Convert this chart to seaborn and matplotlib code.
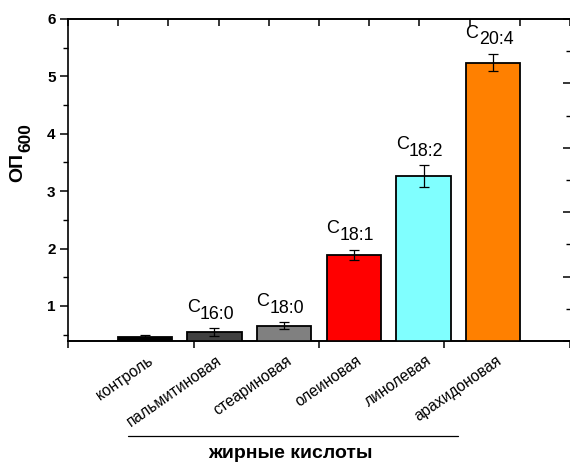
import numpy as np
import matplotlib
matplotlib.use("Agg")
import matplotlib.pyplot as plt
import seaborn as sns
from matplotlib.lines import Line2D

categories = ["контроль", "пальмитиновая", "стеариновая", "олеиновая", "линолевая", "арахидоновая"]
values = [0.455, 0.54, 0.66, 1.89, 3.265, 5.24]
errors = [0.04, 0.07, 0.055, 0.09, 0.19, 0.15]
bar_labels = ["", "16:0", "18:0", "18:1", "18:2", "20:4"]
colors = ["#000000", "#404040", "#808080", "#FF0000", "#80FFFF", "#FF8000"]

sns.set_style("ticks")
plt.rcParams["font.family"] = ["Liberation Sans", "DejaVu Sans"]
plt.rcParams.update({"text.color": "black", "axes.labelcolor": "black",
                     "xtick.color": "black", "ytick.color": "black",
                     "axes.edgecolor": "black"})

fig = plt.figure(figsize=(5.7, 4.62), dpi=100)
ax = fig.add_axes([68 / 570, 1 - 341 / 462, 1 - 68 / 570, (341 - 19) / 462])

sns.barplot(x=categories, y=values, hue=categories, palette=colors, legend=False,
            saturation=1, width=0.78, edgecolor="black", linewidth=1.3, ax=ax, zorder=2)
xpos = np.arange(len(categories))
ax.errorbar(xpos, values, yerr=errors, fmt="none", ecolor="black", elinewidth=0.9,
            capsize=3.5, capthick=0.9, zorder=3)

xlim = (-1.1, 6.1)
ax.set_xlim(*xlim)
ax.set_ylim(0.39, 6)

# y axis
ax.set_yticks([1, 2, 3, 4, 5, 6])
ax.set_yticks(np.arange(0.5, 6.0, 1.0), minor=True)
ax.tick_params(axis="y", which="major", direction="out", length=6, width=1.1,
               labelsize=11, pad=3, colors="black")
ax.tick_params(axis="y", which="minor", direction="out", length=3.5, width=1.0,
               colors="black")
for t in ax.get_yticklabels():
    t.set_fontweight("bold")

# x category labels (no tick marks)
ax.set_xticks(xpos)
ax.set_xticklabels([])
ax.tick_params(axis="x", which="major", length=0)
for i, c in enumerate(categories):
    ax.annotate(c, xy=(i, 0), xycoords=("data", "axes fraction"),
                xytext=(4.5, -13), textcoords="offset points",
                rotation=35, ha="right", va="center", rotation_mode="anchor",
                fontsize=11.2, color="black")

ax.set_xlabel("")
ax.set_ylabel("")

# bottom ticks
sec_b = ax.secondary_xaxis("bottom")
sec_b.set_xticks(np.linspace(xlim[0], xlim[1], 5))
sec_b.set_xticklabels([])
sec_b.tick_params(direction="out", length=5, width=1.1, colors="black")
sec_b.spines["bottom"].set_linewidth(1.2)
sec_b.spines["bottom"].set_color("black")

# top ticks
sec_t = ax.secondary_xaxis("top")
sec_t.set_xticks(np.linspace(xlim[0], xlim[1], 11))
sec_t.set_xticklabels([])
sec_t.tick_params(direction="in", length=5, width=1.1, colors="black")
sec_t.spines["top"].set_linewidth(1.2)
sec_t.spines["top"].set_color("black")

# right ticks
axr = ax.twinx()
axr.set_ylim(0, 10)
axr.set_yticks([0, 2, 4, 6, 8, 10])
axr.set_yticks([1, 3, 5, 7, 9], minor=True)
axr.set_yticklabels([])
axr.tick_params(axis="y", which="major", direction="in", length=5, width=1.1, colors="black")
axr.tick_params(axis="y", which="minor", direction="in", length=3, width=1.0, colors="black")
for s in ["right", "left", "top", "bottom"]:
    axr.spines[s].set_visible(False)

for s in ["left", "top", "bottom"]:
    ax.spines[s].set_linewidth(1.2)
    ax.spines[s].set_color("black")
ax.spines["right"].set_visible(False)

# labels above bars
for i, (v, e, lab) in enumerate(zip(values, errors, bar_labels)):
    if not lab:
        continue
    t1 = ax.annotate("C", xy=(i, v + e), xycoords="data", xytext=(-20, 9),
                     textcoords="offset points", ha="left", va="bottom", fontsize=13,
                     color="black")
    ax.annotate(lab, xy=(1, 0), xycoords=t1, xytext=(0.3, -5),
                textcoords="offset points", ha="left", va="bottom", fontsize=12.8,
                color="black")

# y label
t1 = fig.text(18 / 570, 1 - 167 / 462, "ОП", rotation=90, ha="center", va="center",
              fontsize=14, fontweight="bold", color="black")
fig.canvas.draw()
ax.annotate("600", xy=(1, 1), xycoords=t1, xytext=(5, 0), textcoords="offset points",
            rotation=90, ha="right", va="bottom", fontsize=12.5, fontweight="bold",
            color="black", annotation_clip=False)

# group line and x label
fig.add_artist(Line2D([128 / 570, 458 / 570], [1 - 436 / 462, 1 - 436 / 462],
                      color="black", linewidth=0.9))
fig.text(290 / 570, 1 - 454 / 462, "жирные кислоты", ha="center", va="center",
         fontsize=14, fontweight="bold", color="black")

fig.savefig("out.png", dpi=100)
